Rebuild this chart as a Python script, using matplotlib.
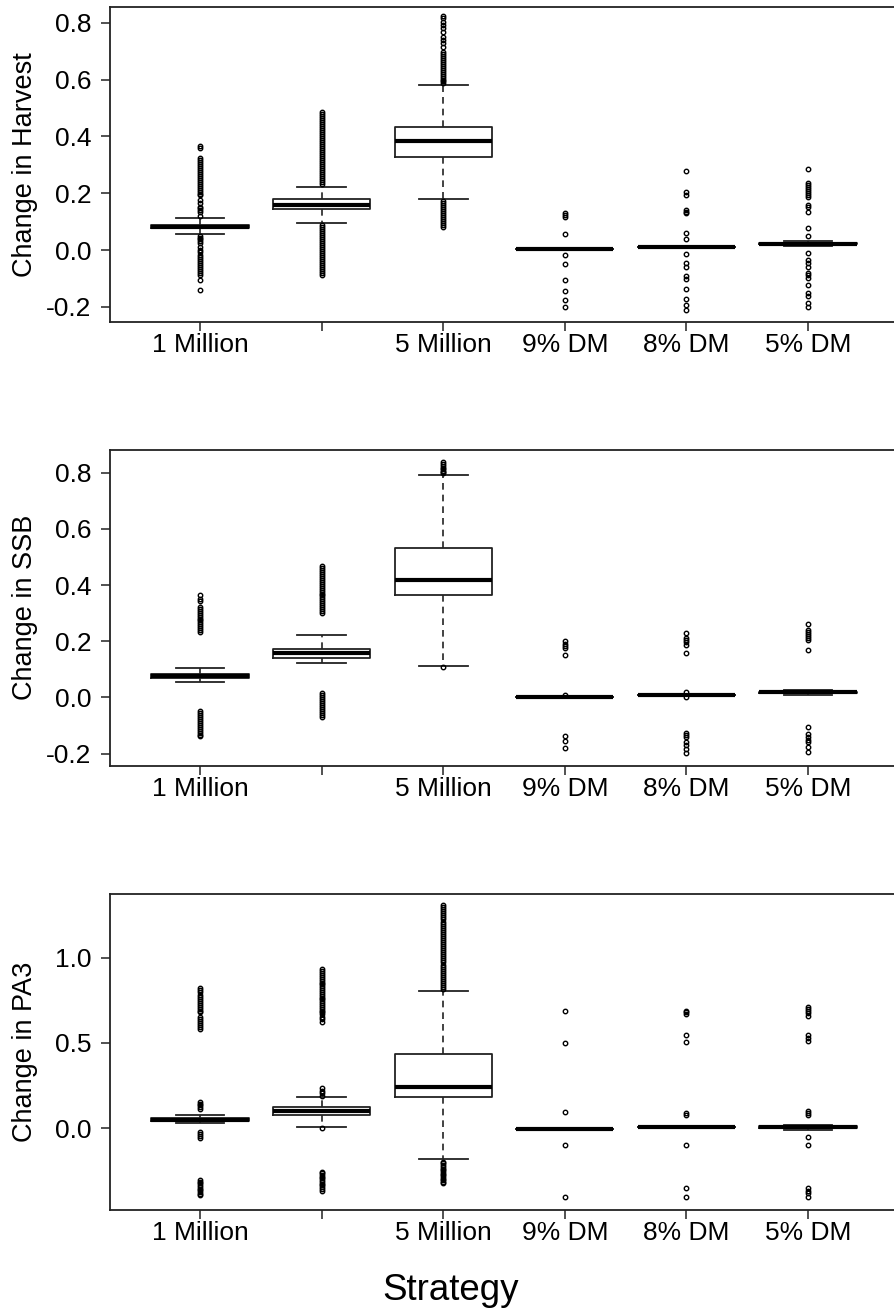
import numpy as np
import matplotlib
matplotlib.use('Agg')
import matplotlib.pyplot as plt

plt.rcParams['font.family'] = ['Liberation Sans', 'DejaVu Sans']
plt.rcParams['axes.unicode_minus'] = False

strategies = ["1 Million", "", "5 Million", "9% DM", "8% DM", "5% DM"]

# ---- Change in Harvest ----
harvest_med = [0.082, 0.160, 0.385, 0.005, 0.0095, 0.0225]
harvest_q1 = [0.076, 0.143, 0.327, 0.005, 0.0095, 0.020]
harvest_q3 = [0.088, 0.178, 0.433, 0.005, 0.0095, 0.025]
harvest_lo = [0.056, 0.094, 0.178, 0.005, 0.0095, 0.013]
harvest_hi = [0.113, 0.221, 0.582, 0.005, 0.0095, 0.033]
harvest_out = [
    [0.366, 0.358, 0.325, 0.318, 0.311, 0.304, 0.297, 0.290, 0.283, 0.276, 0.269,
     0.262, 0.255, 0.248, 0.241, 0.234, 0.227, 0.220, 0.213, 0.206, 0.199, 0.193,
     0.176, 0.165, 0.153, 0.147, 0.140, 0.135, 0.119,
     0.050, 0.044, 0.038, 0.032, 0.026, 0.012, 0.002, -0.006, -0.017, -0.024, -0.031,
     -0.038, -0.045, -0.052, -0.059, -0.066, -0.073, -0.080, -0.088, -0.105, -0.141],
    [0.485, 0.478, 0.471, 0.464, 0.457, 0.450, 0.443, 0.436, 0.429, 0.422, 0.415,
     0.408, 0.401, 0.394, 0.387, 0.380, 0.373, 0.366, 0.359, 0.352, 0.345, 0.338,
     0.331, 0.324, 0.317, 0.310, 0.303, 0.296, 0.289, 0.282, 0.275, 0.268, 0.261,
     0.254, 0.247, 0.240, 0.233,
     0.088, 0.081, 0.074, 0.067, 0.060, 0.053, 0.046, 0.039, 0.032, 0.025, 0.018,
     0.011, 0.004, -0.003, -0.010, -0.017, -0.024, -0.031, -0.038, -0.045, -0.052,
     -0.059, -0.066, -0.073, -0.080, -0.088],
    [0.824, 0.815, 0.803, 0.791, 0.780, 0.768, 0.750, 0.739, 0.727, 0.716, 0.698,
     0.691, 0.684, 0.677, 0.670, 0.663, 0.656, 0.649, 0.642, 0.635, 0.628, 0.621,
     0.614, 0.607, 0.600, 0.593, 0.588,
     0.172, 0.165, 0.158, 0.151, 0.144, 0.137, 0.130, 0.123, 0.116, 0.109, 0.102,
     0.095, 0.088, 0.082],
    [0.129, 0.122, 0.117, 0.056, -0.019, -0.050, -0.107, -0.145, -0.177, -0.200],
    [0.277, 0.205, 0.193, 0.140, 0.135, 0.129, 0.061, 0.038, -0.014, -0.047, -0.060,
     -0.090, -0.100, -0.137, -0.172, -0.193, -0.212],
    [0.286, 0.237, 0.230, 0.222, 0.215, 0.208, 0.200, 0.192, 0.185, 0.158, 0.150,
     0.135, 0.079, 0.049, -0.009, -0.035, -0.045, -0.058, -0.082, -0.088, -0.097,
     -0.123, -0.152, -0.160, -0.187, -0.199],
]

# ---- Change in SSB ----
ssb_med = [0.0765, 0.158, 0.417, 0.003, 0.0078, 0.0185]
ssb_q1 = [0.070, 0.139, 0.364, 0.003, 0.0078, 0.016]
ssb_q3 = [0.083, 0.174, 0.533, 0.003, 0.0078, 0.021]
ssb_lo = [0.055, 0.122, 0.112, 0.003, 0.0078, 0.009]
ssb_hi = [0.106, 0.221, 0.791, 0.003, 0.0078, 0.028]
ssb_out = [
    [0.365, 0.352, 0.342, 0.323, 0.316, 0.309, 0.302, 0.295, 0.288, 0.281, 0.274,
     0.267, 0.260, 0.253, 0.246, 0.239, 0.234,
     -0.047, -0.055, -0.062, -0.069, -0.076, -0.083, -0.090, -0.097, -0.104, -0.111,
     -0.118, -0.125, -0.132, -0.139],
    [0.468, 0.461, 0.454, 0.447, 0.440, 0.433, 0.426, 0.419, 0.412, 0.405, 0.398,
     0.391, 0.384, 0.377, 0.370, 0.363, 0.356, 0.349, 0.342, 0.335, 0.328, 0.321,
     0.314, 0.307, 0.300,
     0.015, 0.008, 0.001, -0.006, -0.013, -0.020, -0.027, -0.034, -0.041, -0.048,
     -0.055, -0.062, -0.070],
    [0.839, 0.830, 0.823, 0.818, 0.813, 0.808, 0.803, 0.798, 0.108],
    [0.201, 0.192, 0.184, 0.176, 0.151, 0.010, -0.137, -0.156, -0.180],
    [0.230, 0.212, 0.205, 0.198, 0.188, 0.158, 0.018, 0.000, -0.128, -0.134, -0.140,
     -0.157, -0.170, -0.185, -0.199],
    [0.262, 0.241, 0.234, 0.227, 0.220, 0.212, 0.205, 0.170, -0.104, -0.131, -0.140,
     -0.150, -0.160, -0.175, -0.193],
]

# ---- Change in PA3 ----
pa3_med = [0.050, 0.103, 0.240, -0.002, 0.006, 0.006]
pa3_q1 = [0.040, 0.076, 0.185, -0.002, 0.006, 0.002]
pa3_q3 = [0.062, 0.125, 0.437, -0.002, 0.006, 0.012]
pa3_lo = [0.029, 0.006, -0.182, -0.002, 0.006, -0.010]
pa3_hi = [0.078, 0.185, 0.804, -0.002, 0.006, 0.021]
pa3_out = [
    [0.820, 0.808, 0.796, 0.784, 0.772, 0.760, 0.748, 0.736, 0.724, 0.712, 0.700,
     0.690, 0.680, 0.654, 0.642, 0.630, 0.618, 0.606, 0.594, 0.582,
     0.155, 0.145, 0.135, 0.125, 0.112,
     -0.020, -0.035, -0.048, -0.059,
     -0.303, -0.313, -0.323, -0.333, -0.343, -0.353, -0.363, -0.373, -0.383, -0.391],
    [0.931, 0.920, 0.909, 0.898, 0.887, 0.876, 0.865, 0.854, 0.843, 0.832, 0.821,
     0.810, 0.799, 0.788, 0.777, 0.766, 0.755, 0.744, 0.733, 0.722, 0.711, 0.700,
     0.690, 0.680, 0.668, 0.655, 0.640, 0.625,
     0.237, 0.218, 0.205, 0.189, 0.000,
     -0.254, -0.264, -0.274, -0.284, -0.294, -0.304, -0.314, -0.324, -0.334, -0.344,
     -0.354, -0.366],
    [1.308, 1.296, 1.284, 1.272, 1.260, 1.248, 1.236, 1.224, 1.212, 1.200, 1.188,
     1.176, 1.164, 1.152, 1.140, 1.128, 1.116, 1.104, 1.092, 1.080, 1.068, 1.056,
     1.044, 1.032, 1.020, 1.008, 0.996, 0.984, 0.972, 0.960, 0.948, 0.936, 0.924,
     0.912, 0.900, 0.888, 0.876, 0.864, 0.852, 0.840, 0.828, 0.816,
     -0.196, -0.206, -0.216, -0.226, -0.236, -0.246, -0.256, -0.266, -0.276, -0.286,
     -0.296, -0.306, -0.314, -0.319],
    [0.689, 0.501, 0.094, -0.098, -0.402],
    [0.690, 0.680, 0.668, 0.545, 0.508, 0.090, 0.078, -0.098, -0.351, -0.402],
    [0.712, 0.700, 0.688, 0.675, 0.658, 0.547, 0.530, 0.513, 0.103, 0.090, 0.078,
     -0.053, -0.098, -0.351, -0.365, -0.380, -0.402],
]

panels = [
    ("Change in Harvest", harvest_med, harvest_q1, harvest_q3, harvest_lo, harvest_hi,
     harvest_out, (-0.253, 0.854), [-0.2, 0.0, 0.2, 0.4, 0.6, 0.8]),
    ("Change in SSB", ssb_med, ssb_q1, ssb_q3, ssb_lo, ssb_hi,
     ssb_out, (-0.243, 0.881), [-0.2, 0.0, 0.2, 0.4, 0.6, 0.8]),
    ("Change in PA3", pa3_med, pa3_q1, pa3_q3, pa3_lo, pa3_hi,
     pa3_out, (-0.479, 1.375), [0.0, 0.5, 1.0]),
]

W, H = 894, 1313
fig = plt.figure(figsize=(W / 100, H / 100), dpi=100)

# axes boxes in pixels: (top, bottom)
rows = [(7.3, 322), (450, 765.7), (893.7, 1210)]
left_px, right_px = 110, 898

line_col = '#222222'

for (label, med, q1, q3, lo, hi, out, ylim, yticks), (top, bot) in zip(panels, rows):
    ax = fig.add_axes([left_px / W, (H - bot) / H, (right_px - left_px) / W, (bot - top) / H])
    stats = []
    for i in range(6):
        stats.append(dict(med=med[i], q1=q1[i], q3=q3[i], whislo=lo[i], whishi=hi[i],
                          fliers=out[i]))
    ax.bxp(stats, positions=range(1, 7), widths=0.8, capwidths=0.4,
           boxprops=dict(color=line_col, linewidth=1.3),
           medianprops=dict(color='black', linewidth=3, solid_capstyle='butt'),
           whiskerprops=dict(color=line_col, linewidth=1.2, linestyle=(0, (4, 3))),
           capprops=dict(color=line_col, linewidth=1.3),
           flierprops=dict(marker='o', markersize=3.2, markerfacecolor='none',
                           markeredgecolor='black', markeredgewidth=1.0))
    ax.set_xlim(0.26, 6.74)
    ax.set_ylim(ylim)
    ax.set_xticks(range(1, 7))
    ax.set_xticklabels(strategies)
    ax.set_yticks(yticks)
    ax.set_yticklabels(["%.1f" % t for t in yticks])
    for s in ax.spines.values():
        s.set_color(line_col)
        s.set_linewidth(1.3)
    ax.tick_params(axis='both', direction='out', length=6.2, width=1.1, color=line_col,
                   labelsize=19, labelcolor='black')
    ax.tick_params(axis='x', pad=2)
    ax.tick_params(axis='y', pad=7)
    fig.text(25 / W, (H - (top + bot) / 2) / H, label, rotation=90, ha='center',
             va='center', fontsize=19.5)

fig.text(451 / W, (H - 1300) / H, "Strategy", ha='center', va='baseline', fontsize=26.5)

fig.savefig('out.png', dpi=100)
